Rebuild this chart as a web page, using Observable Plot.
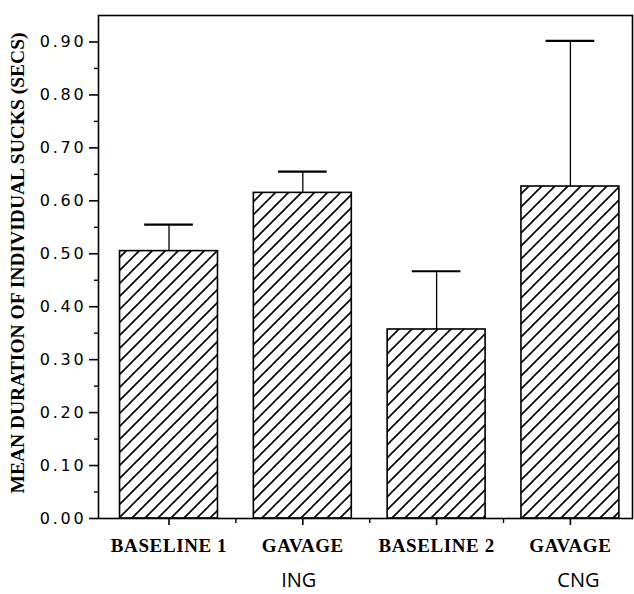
<!DOCTYPE html>
<html>
<head>
<meta charset="utf-8">
<script src="https://cdn.jsdelivr.net/npm/d3@7"></script>
<script src="https://cdn.jsdelivr.net/npm/@observablehq/plot@0.6"></script>
<style>
  html, body { margin: 0; padding: 0; background: #fff; }
  #chart svg { display: block; background: #fff; }
</style>
</head>
<body>
<div id="chart"></div>
<script>
// ---- data ----
const categories = ["BASELINE 1", "GAVAGE", "BASELINE 2", "GAVAGE"];
const means = [0.505, 0.615, 0.357, 0.627];
const errors = [0.05, 0.04, 0.11, 0.275];
const groupLabels = ["ING", "CNG"];
const groupIndex = [1, 3];
const yTickValues = [0, 0.1, 0.2, 0.3, 0.4, 0.5, 0.6, 0.7, 0.8, 0.9];
const yMinorValues = [0.05, 0.15, 0.25, 0.35, 0.45, 0.55, 0.65, 0.75, 0.85];
const xMinorValues = [0.5, 1.5, 2.5];
const yTitle = "MEAN DURATION OF INDIVIDUAL SUCKS (SECS)";

const rows = categories.map((c, i) => ({i, c, m: means[i], e: errors[i]}));
const groups = groupLabels.map((g, k) => ({g, i: groupIndex[k]}));

const halfBar = 0.366;
const halfCap = 0.182;
const groupText = {
  text: "g", frameAnchor: "bottom", lineAnchor: "middle", dy: 62,
  fontFamily: "Open Sans", fontSize: 20, fill: "#000"
};

const svg = Plot.plot({
  width: 634,
  height: 594,
  marginLeft: 98,
  marginRight: 2,
  marginTop: 15,
  marginBottom: 76,
  style: {background: "#fff", color: "#000", fontFamily: "DejaVu Sans"},
  x: {type: "linear", domain: [-0.527, 3.464], axis: null},
  y: {domain: [0, 0.95], axis: null},
  marks: [
    Plot.rect(rows, {
      x1: d => d.i - halfBar, x2: d => d.i + halfBar,
      y1: 0, y2: "m",
      fill: "url(#hatch)", stroke: "#000", strokeWidth: 1.6
    }),
    Plot.ruleX(rows, {x: "i", y1: "m", y2: d => d.m + d.e, stroke: "#000", strokeWidth: 1.3}),
    Plot.ruleY(rows, {
      y: d => d.m + d.e,
      x1: d => d.i - halfCap, x2: d => d.i + halfCap,
      stroke: "#000", strokeWidth: 2.2
    }),
    Plot.frame({stroke: "#000", strokeWidth: 1.6}),
    Plot.axisY({
      ticks: yTickValues, tickFormat: d3.format(".2f"),
      tickSize: 9, tickPadding: 3, strokeWidth: 1.6,
      fontSize: 16, fontFamily: "DejaVu Sans", label: null
    }),
    Plot.axisY({
      ticks: yMinorValues, tickFormat: () => "",
      tickSize: 4, strokeWidth: 1.4, label: null
    }),
    Plot.axisX({
      ticks: [0, 1, 2, 3], tickFormat: i => categories[i],
      tickSize: 7, tickPadding: 13, strokeWidth: 1.6,
      fontSize: 19, fontFamily: "Liberation Serif", fontWeight: "bold", label: null
    }),
    Plot.axisX({
      ticks: xMinorValues, tickFormat: () => "",
      tickSize: 5, strokeWidth: 1.4, label: null
    }),
    Plot.text([yTitle], {
      frameAnchor: "left", textAnchor: "middle", dx: -81, dy: -4, rotate: -90,
      fontFamily: "Liberation Serif", fontWeight: "bold", fontSize: 19.5, fill: "#000"
    }),
    Plot.text(groups.slice(0, 1), {...groupText, x: "i", dx: -4}),
    Plot.text(groups.slice(1), {...groupText, x: "i", dx: 8})
  ]
});

// hatch pattern definition
d3.select(svg).insert("defs", ":first-child").html(
  '<pattern id="hatch" patternUnits="userSpaceOnUse" width="13" height="13">' +
  '<rect width="13" height="13" fill="#fff"/>' +
  '<path d="M-2,2 L2,-2 M0,13 L13,0 M11,15 L15,11" stroke="#000" stroke-width="1.6"/>' +
  '</pattern>'
);
d3.select(svg).selectAll('g[aria-label="y-axis tick label"] text').attr("letter-spacing", "2.8");
d3.select(svg).selectAll('g[aria-label="x-axis tick label"] text').attr("letter-spacing", "0.6");

document.getElementById("chart").appendChild(svg);
</script>
</body>
</html>
